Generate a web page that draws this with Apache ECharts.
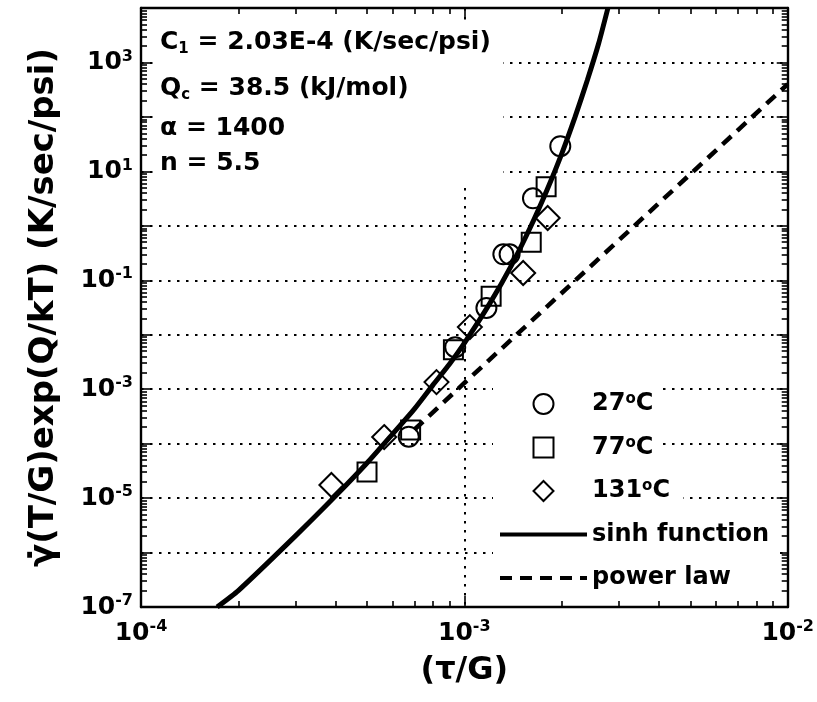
<!DOCTYPE html>
<html>
<head>
<meta charset="utf-8">
<script src="https://cdn.jsdelivr.net/npm/echarts@6/dist/echarts.min.js"></script>
<style>
  html, body { margin: 0; padding: 0; background: #fff; }
  #chart { width: 817px; height: 702px; }
</style>
</head>
<body>
<div id="chart"></div>
<script>
// Normalised stress (tau/G) against temperature-compensated strain rate.

// 27 °C tests
const t27X = [6.73e-4, 9.37e-4, 1.17e-3, 1.32e-3, 1.38e-3, 1.63e-3, 1.98e-3];
const t27Y = [1.34e-4, 5.9e-3, 3.1e-2, 0.30, 0.30, 3.2, 29];
// 77 °C tests
const t77X = [5.0e-4, 6.82e-4, 9.25e-4, 1.21e-3, 1.61e-3, 1.79e-3];
const t77Y = [3.0e-5, 1.78e-4, 5.3e-3, 5.1e-2, 0.50, 5.2];
// 131 °C tests
const t131X = [3.88e-4, 5.65e-4, 8.2e-4, 1.04e-3, 1.52e-3, 1.81e-3];
const t131Y = [1.74e-5, 1.32e-4, 1.35e-3, 1.38e-2, 0.136, 1.39];

// hyperbolic-sine fit
const sinhX = [1.72e-4, 2e-4, 3e-4, 4e-4, 5e-4, 6e-4, 7e-4, 8e-4, 9e-4, 1e-3,
               1.2e-3, 1.4e-3, 1.6e-3, 1.8e-3, 2.0e-3, 2.2e-3, 2.4e-3, 2.6e-3, 2.78e-3];
const sinhY = [1e-7, 2.0e-7, 2.0e-6, 1.1e-5, 4.4e-5, 1.5e-4, 4.3e-4, 1.2e-3, 2.9e-3, 7.0e-3,
               3.8e-2, 0.19, 0.94, 4.5, 21, 100, 470, 2200, 1.0e4];
// power-law fit
const powerX = [7.0e-4, 1.0e-3, 1.0e-2];
const powerY = [1.8e-4, 1.3e-3, 400];

// axes
const xRange = [1e-4, 1e-2];
const yRange = [1e-7, 1e4];
const xLabelValues = [1e-4, 1e-3, 1e-2];
const yLabelValues = [1e-7, 1e-5, 1e-3, 1e-1, 1e1, 1e3];

// fit parameters written in the upper-left corner
const paramLines = [
  'C{sub|1} = 2.03E-4 (K/sec/psi)',
  'Q{sub|c} = 38.5 (kJ/mol)',
  'α = 1400',
  'n = 5.5'
];
const paramLineY = [42, 88, 128, 163];

const seriesNames = ['27°C', '77°C', '131°C', 'sinh function', 'power law'];

const FONT = 'DejaVu Sans';

function decades(range) {
  const out = [];
  const lo = Math.round(Math.log10(range[0])), hi = Math.round(Math.log10(range[1]));
  for (let e = lo; e <= hi; e++) out.push(Math.pow(10, e));
  return out;
}
function minorTicks(range) {
  const out = [];
  const lo = Math.round(Math.log10(range[0])), hi = Math.round(Math.log10(range[1]));
  for (let e = lo; e < hi; e++) {
    for (let k = 2; k <= 9; k++) out.push(k * Math.pow(10, e));
  }
  return out;
}
function pairs(xs, ys) { return xs.map((x, i) => [x, ys[i]]); }

const TICK = { color: '#000', width: 1.6 };
const AXIS_LINE = { show: true, lineStyle: { color: '#000', width: 2.4 } };
const GRID_LINE = { show: true, lineStyle: { color: '#000', width: 2, type: [2.5, 6.5] } };

const powRich = {
  b: { fontFamily: FONT, fontWeight: 'bold', fontSize: 25, lineHeight: 28, color: '#000' },
  e: { fontFamily: FONT, fontWeight: 'bold', fontSize: 16, lineHeight: 15, verticalAlign: 'top', color: '#000' }
};
function powLabel(v) {
  const e = Math.round(Math.log10(v));
  return '{b|10}{e|' + e + '}';
}

function makeAxes(range, sideA, sideB, labelValues, labelMargin, name, nameOpts, isY) {
  const base = { type: 'log', logBase: 10, min: range[0], max: range[1], gridIndex: 0 };
  const major = decades(range), minor = minorTicks(range);
  const main = Object.assign({}, base, {
    position: sideA,
    axisLine: AXIS_LINE,
    axisTick: { show: true, inside: true, length: 11, customValues: major, lineStyle: TICK },
    axisLabel: { show: true, customValues: labelValues, formatter: powLabel, rich: powRich, margin: labelMargin },
    splitLine: GRID_LINE,
    name: name
  }, nameOpts);
  if (isY) main.interval = 1;
  const mirror = Object.assign({}, base, {
    position: sideB,
    axisLine: AXIS_LINE,
    axisTick: { show: true, inside: true, length: 11, customValues: major, lineStyle: TICK },
    axisLabel: { show: false },
    splitLine: { show: false }
  });
  // minor ticks: listed on the opposite side so the grid places them on the intended one
  const minorA = Object.assign({}, base, {
    position: sideB,
    axisLine: { show: false },
    axisTick: { show: true, inside: true, length: 6, customValues: minor, lineStyle: TICK },
    axisLabel: { show: false },
    splitLine: { show: false }
  });
  const minorB = Object.assign({}, base, {
    position: sideA,
    axisLine: { show: false },
    axisTick: { show: true, inside: true, length: 6, customValues: minor, lineStyle: TICK },
    axisLabel: { show: false },
    splitLine: { show: false }
  });
  return [main, mirror, minorA, minorB];
}

const xAxes = makeAxes(xRange, 'bottom', 'top', xLabelValues, 12, '(τ/G)', {
  nameLocation: 'middle', nameGap: 48,
  nameTextStyle: { fontFamily: FONT, fontWeight: 'bold', fontSize: 32, color: '#000' }
}, false);
const yAxes = makeAxes(yRange, 'left', 'right', yLabelValues, 8, 'γ̇(T/G)exp(Q/kT) (K/sec/psi)', {
  nameLocation: 'middle', nameGap: 80, nameRotate: 90,
  nameTextStyle: { fontFamily: FONT, fontWeight: 'bold', fontSize: 34, color: '#000' }
}, true);

// open markers, no connecting line
const hollow = { color: 'rgba(0,0,0,0)', borderColor: '#000', borderWidth: 2 };
const noLine = { color: 'rgba(0,0,0,0)', width: 0 };
// fit curves: no markers in the plot or in the legend
const noMark = { color: 'rgba(0,0,0,0)', borderWidth: 0 };

const graphicEls = [
  // white panels behind the parameter block and the legend
  { type: 'rect', z: 1, silent: true, shape: { x: 153, y: 20, width: 350, height: 165 }, style: { fill: '#fff' } },
  { type: 'rect', z: 1, silent: true, shape: { x: 493, y: 382, width: 170, height: 72 }, style: { fill: '#fff' } },
  { type: 'rect', z: 1, silent: true, shape: { x: 493, y: 489, width: 190, height: 18 }, style: { fill: '#fff' } },
  { type: 'rect', z: 1, silent: true, shape: { x: 493, y: 544, width: 287, height: 18 }, style: { fill: '#fff' } }
];
paramLines.forEach((t, i) => {
  graphicEls.push({
    type: 'text', z: 5, silent: true, x: 160, y: paramLineY[i],
    style: {
      text: t, fill: '#000', fontFamily: FONT, fontWeight: 'bold', fontSize: 25, lineHeight: 30,
      align: 'left', verticalAlign: 'middle',
      rich: { sub: { fontFamily: FONT, fontWeight: 'bold', fontSize: 15, lineHeight: 14, verticalAlign: 'bottom', fill: '#000' } }
    }
  });
});

const legendItems = seriesNames.map((n, i) =>
  i >= 3 ? { name: n, lineStyle: { width: 4 } } : { name: n });

const chart = echarts.init(document.getElementById('chart'), null, { renderer: 'canvas' });
chart.setOption({
  animation: false,
  backgroundColor: '#fff',
  grid: { left: 141, right: 25, top: 8, bottom: 95, containLabel: false },
  xAxis: xAxes,
  yAxis: yAxes,
  legend: {
    orient: 'vertical', left: 493, top: 387,
    itemWidth: 87, itemHeight: 25, itemGap: 19.5,
    selectedMode: false,
    data: legendItems,
    formatter: n => n.replace('°', '{o|o}'),
    textStyle: {
      fontFamily: FONT, fontWeight: 'bold', fontSize: 24, color: '#000',
      rich: { o: { fontFamily: FONT, fontWeight: 'bold', fontSize: 15, lineHeight: 14, verticalAlign: 'top', color: '#000' } }
    }
  },
  graphic: { elements: graphicEls },
  series: [
    { name: seriesNames[0], type: 'line', z: 2, symbol: 'circle', symbolSize: 20, showSymbol: true,
      itemStyle: hollow, lineStyle: noLine, data: pairs(t27X, t27Y) },
    { name: seriesNames[1], type: 'line', z: 2, symbol: 'rect', symbolSize: 19, showSymbol: true,
      itemStyle: hollow, lineStyle: noLine, data: pairs(t77X, t77Y) },
    { name: seriesNames[2], type: 'line', z: 2, symbol: 'diamond', symbolSize: 24, showSymbol: true,
      itemStyle: hollow, lineStyle: noLine, data: pairs(t131X, t131Y) },
    { name: seriesNames[3], type: 'line', z: 3, symbol: 'none', smooth: 0.2,
      itemStyle: noMark, lineStyle: { color: '#000', width: 5 }, data: pairs(sinhX, sinhY) },
    { name: seriesNames[4], type: 'line', z: 3, symbol: 'none',
      itemStyle: noMark, lineStyle: { color: '#000', width: 4.5, type: [12, 8] }, data: pairs(powerX, powerY) }
  ]
});
</script>
</body>
</html>
